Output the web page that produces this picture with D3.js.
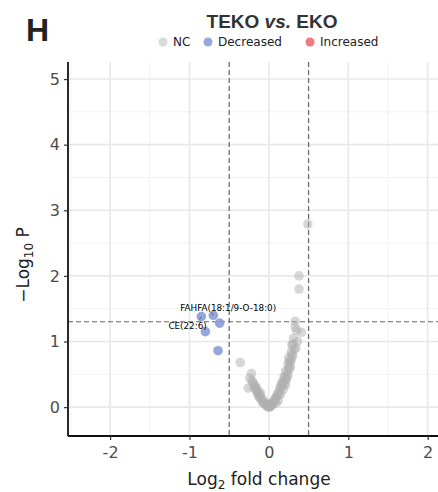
<!DOCTYPE html>
<html>
<head>
<meta charset="utf-8">
<script src="https://cdn.jsdelivr.net/npm/d3@7"></script>
<style>
  body { margin: 0; background: #fff; }
  svg { display: block; font-family: "DejaVu Sans", sans-serif; }
</style>
</head>
<body>
<div id="chart"></div>
<script>
// log2 fold change / -log10 P
const ncFC = [-0.36, -0.22, -0.24, -0.26, -0.20, -0.18, -0.16, -0.14, -0.13, -0.10, -0.08, -0.05, -0.03, -0.01,
  0.01, 0.02, 0.04, 0.06, 0.09, 0.11, 0.14, 0.16, 0.19, 0.21, 0.24, 0.25, 0.28, 0.29, 0.31, 0.34, 0.35, 0.41,
  0.33, 0.33, 0.38, 0.38, 0.49, -0.12, -0.07, 0.00, 0.03, 0.07, 0.12, 0.17, 0.22, 0.26, 0.30, -0.19, 0.27, 0.36,
  -0.21, -0.17, -0.15, -0.11, -0.09, -0.06, -0.04, -0.02, 0.00, 0.02, 0.05, 0.08, 0.10, 0.13, 0.15, 0.18, 0.20,
  0.23, 0.25, 0.27, 0.29, 0.32, 0.15, 0.18, 0.21, 0.24, 0.26, 0.19, 0.22, 0.12, 0.09, -0.11, -0.15, 0.30, 0.28];
const ncP = [0.68, 0.51, 0.44, 0.29, 0.37, 0.34, 0.26, 0.21, 0.17, 0.12, 0.08, 0.05, 0.02, 0.00,
  0.00, 0.01, 0.03, 0.08, 0.14, 0.21, 0.29, 0.37, 0.46, 0.55, 0.66, 0.75, 0.84, 0.95, 1.05, 0.90, 1.17, 1.14,
  1.31, 1.22, 2.00, 1.80, 2.79, 0.15, 0.06, 0.02, 0.05, 0.11, 0.18, 0.33, 0.42, 0.70, 0.78, 0.30, 0.62, 1.00,
  0.40, 0.31, 0.24, 0.19, 0.14, 0.09, 0.06, 0.03, 0.01, 0.02, 0.07, 0.12, 0.17, 0.24, 0.32, 0.39, 0.45,
  0.52, 0.60, 0.70, 0.80, 0.88, 0.20, 0.27, 0.34, 0.48, 0.58, 0.35, 0.44, 0.10, 0.06, 0.22, 0.28, 0.96, 0.72];

const decNames = ["CE(22:6)", "FAHFA(18:1/9-O-18:0)", "", "", ""];
const decFC = [-0.85, -0.70, -0.62, -0.80, -0.64];
const decP = [1.38, 1.40, 1.28, 1.15, 0.86];

const legendKeys = ["NC", "Decreased", "Increased"];
const legendColors = ["#d9d9d9", "#9aaad8", "#ee7a80"];
const xTicks = [-2, -1, 0, 1, 2];
const yTicks = [0, 1, 2, 3, 4, 5];
const fcCut = 0.5, pCut = -Math.log10(0.05);

const width = 438, height = 492;
const svg = d3.select("#chart").append("svg").attr("width", width).attr("height", height);

const x = d3.scaleLinear().domain([-2.53, 2.13]).range([68, 438]);
const y = d3.scaleLinear().domain([-0.44, 5.26]).range([436, 62]);

// grid
const grid = svg.append("g");
const minorX = d3.range(-2.5, 2.6, 1), minorY = d3.range(0.5, 5.1, 1);
grid.selectAll(".mx").data(minorX).join("line")
  .attr("x1", d => x(d)).attr("x2", d => x(d)).attr("y1", 62).attr("y2", 436)
  .attr("stroke", "#f2f2f2").attr("stroke-width", 1);
grid.selectAll(".my").data(minorY).join("line")
  .attr("x1", 68).attr("x2", 438).attr("y1", d => y(d)).attr("y2", d => y(d))
  .attr("stroke", "#f2f2f2").attr("stroke-width", 1);
grid.selectAll(".gx").data(xTicks).join("line")
  .attr("x1", d => x(d)).attr("x2", d => x(d)).attr("y1", 62).attr("y2", 436)
  .attr("stroke", "#e8e8e8").attr("stroke-width", 1.6);
grid.selectAll(".gy").data(yTicks).join("line")
  .attr("x1", 68).attr("x2", 438).attr("y1", d => y(d)).attr("y2", d => y(d))
  .attr("stroke", "#e8e8e8").attr("stroke-width", 1.6);

// threshold lines
const dash = svg.append("g").attr("stroke", "#666").attr("stroke-width", 1.2).attr("stroke-dasharray", "5,3");
dash.selectAll("line.v").data([-fcCut, fcCut]).join("line")
  .attr("x1", d => x(d)).attr("x2", d => x(d)).attr("y1", 62).attr("y2", 436);
dash.append("line").attr("x1", 68).attr("x2", 438).attr("y1", y(pCut)).attr("y2", y(pCut));

// points
const nc = ncFC.map((d, i) => ({ fc: d, p: ncP[i] }));
const dec = decFC.map((d, i) => ({ fc: d, p: decP[i], name: decNames[i] }));

svg.append("g").selectAll("circle").data(nc).join("circle")
  .attr("cx", d => x(d.fc)).attr("cy", d => y(d.p)).attr("r", 4.8)
  .attr("fill", "#b0b0b0").attr("fill-opacity", 0.5);
svg.append("g").selectAll("circle").data(dec).join("circle")
  .attr("cx", d => x(d.fc)).attr("cy", d => y(d.p)).attr("r", 4.8)
  .attr("fill", "#8298d4").attr("fill-opacity", 0.85);

// labels (repel-ish offsets)
const labelOffsets = { "CE(22:6)": [-33, 12], "FAHFA(18:1/9-O-18:0)": [-33, -4] };
const lab = svg.append("g").selectAll("g").data(dec.filter(d => d.name)).join("g");
lab.append("line")
  .attr("x1", d => x(d.fc)).attr("y1", d => y(d.p))
  .attr("x2", d => x(d.fc) - 2).attr("y2", d => y(d.p) + (d.name[0] === "C" ? 3 : -3))
  .attr("stroke", "#555").attr("stroke-width", 0.8);
lab.append("text")
  .attr("x", d => x(d.fc) + labelOffsets[d.name][0])
  .attr("y", d => y(d.p) + labelOffsets[d.name][1])
  .attr("font-size", 8.8).attr("fill", "#000")
  .text(d => d.name);

// axes
const fmt = d => String(d);
const xAxis = svg.append("g").attr("transform", "translate(0,436)")
  .call(d3.axisBottom(x).tickValues(xTicks).tickSize(4).tickSizeOuter(0).tickFormat(fmt));
const yAxis = svg.append("g").attr("transform", "translate(68,0)")
  .call(d3.axisLeft(y).tickValues(yTicks).tickSize(4).tickSizeOuter(0).tickFormat(fmt));
[xAxis, yAxis].forEach(a => {
  a.select(".domain").attr("stroke", "#111").attr("stroke-width", 1.8);
  a.selectAll(".tick line").attr("stroke", "#333").attr("stroke-width", 1.2);
  a.selectAll(".tick text").attr("fill", "#4d4d4d").attr("font-size", 16).attr("font-family", "DejaVu Sans");
});
xAxis.selectAll(".tick text").attr("dy", "0.95em");
yAxis.selectAll(".tick text").attr("x", -8);
xAxis.select(".domain").attr("d", "M68,0H438");
yAxis.select(".domain").attr("d", "M0,62V436");

// axis titles
const xt = svg.append("text").attr("x", 259).attr("y", 485).attr("text-anchor", "middle")
  .attr("font-size", 17).attr("fill", "#222");
xt.append("tspan").text("Log");
xt.append("tspan").attr("font-size", 12).attr("dy", 4).text("2");
xt.append("tspan").attr("dy", -4).text(" fold change");

const yt = svg.append("text").attr("transform", "translate(29,265) rotate(-90)").attr("text-anchor", "middle")
  .attr("font-size", 17).attr("fill", "#222");
yt.append("tspan").text("\u2212Log");
yt.append("tspan").attr("font-size", 12).attr("dy", 4).text("10");
yt.append("tspan").attr("dy", -4).text(" P");

// panel tag and title
svg.append("text").attr("x", 26).attr("y", 41).attr("font-size", 32).attr("font-weight", "bold")
  .attr("font-family", "Liberation Sans").attr("fill", "#222").text("H");
const title = svg.append("text").attr("x", 272).attr("y", 28).attr("text-anchor", "middle")
  .attr("font-size", 19).attr("font-weight", "bold").attr("font-family", "Liberation Sans").attr("fill", "#333");
title.append("tspan").text("TEKO ");
title.append("tspan").attr("font-style", "italic").text("vs.");
title.append("tspan").text(" EKO");

// legend
const legX = [163, 208, 310];
const leg = svg.append("g").selectAll("g").data(legendKeys).join("g")
  .attr("transform", (d, i) => `translate(${legX[i]},42)`);
leg.append("circle").attr("r", 4.5).attr("fill", (d, i) => legendColors[i]);
leg.append("text").attr("x", 10).attr("dy", "0.35em").attr("font-size", 12).attr("fill", "#222").text(d => d);
</script>
</body>
</html>
